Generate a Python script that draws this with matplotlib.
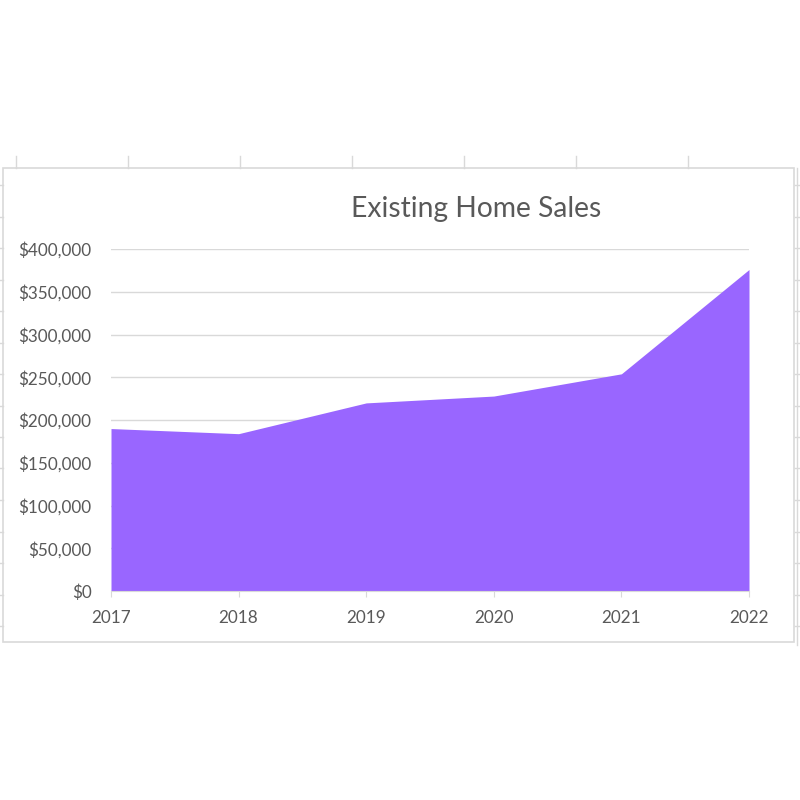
import matplotlib
matplotlib.use("Agg")
import matplotlib.pyplot as plt
from matplotlib.lines import Line2D
from matplotlib.patches import Rectangle
from matplotlib.ticker import FuncFormatter

years = [2017, 2018, 2019, 2020, 2021, 2022]
prices = [190000, 184000, 220000, 228000, 254000, 376000]
y_ticks = [0, 50000, 100000, 150000, 200000, 250000, 300000, 350000, 400000]

plt.rcParams['font.family'] = ['Lato', 'DejaVu Sans']

W = H = 800
fig = plt.figure(figsize=(8, 8), dpi=100)


def fx(px):
    return px / W


def fy(py):
    return 1 - py / H


grid_c = "#d9d9d9"
text_c = "#595959"

# bits of the spreadsheet grid that show around the chart
for x in [16, 128, 240, 352, 464, 576, 688]:
    fig.add_artist(Line2D([fx(x), fx(x)], [fy(156), fy(168)], color=grid_c, lw=1))
rows = [185 + 31.5 * i for i in range(15)]
for y in rows:
    fig.add_artist(Line2D([fx(0), fx(3)], [fy(y), fy(y)], color=grid_c, lw=1))
    fig.add_artist(Line2D([fx(795), fx(800)], [fy(y), fy(y)], color=grid_c, lw=1))
fig.add_artist(Line2D([fx(797), fx(797)], [fy(168), fy(645)], color=grid_c, lw=1))

# chart area border
fig.add_artist(Rectangle((fx(3), fy(642)), fx(794) - fx(3), fy(168) - fy(642),
                         fill=False, edgecolor=grid_c, lw=1.2))

ax = fig.add_axes([fx(111), fy(591), fx(749) - fx(111), fy(249) - fy(591)])
ax.fill_between(years, prices, 0, color="#9966ff", lw=0)
ax.set_xlim(years[0], years[-1])
ax.set_ylim(0, 400000)
ax.set_yticks(y_ticks)
ax.set_xticks(years)
ax.yaxis.set_major_formatter(FuncFormatter(lambda v, p: "${:,.0f}".format(v)))
ax.grid(axis="y", color=grid_c, lw=1)
ax.set_axisbelow(True)
for s in ["top", "right", "left"]:
    ax.spines[s].set_visible(False)
ax.spines["bottom"].set_color(grid_c)
ax.tick_params(axis="y", length=0, pad=14, labelsize=12.3, labelcolor=text_c)
ax.tick_params(axis="x", length=4, color=grid_c, pad=10, labelsize=12.3, labelcolor=text_c)

fig.text(fx(476), fy(209), "Existing Home Sales", ha="center", va="center",
         fontsize=20.3, color=text_c)

fig.savefig("out.png", dpi=100)
